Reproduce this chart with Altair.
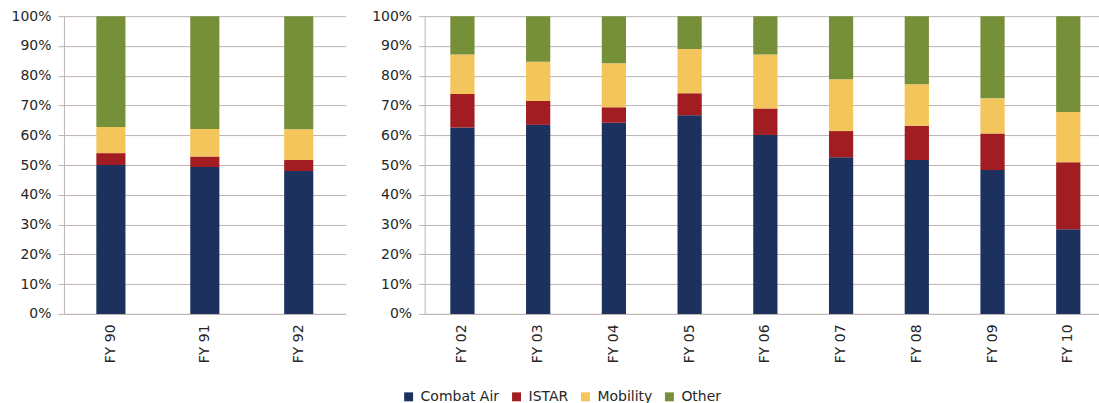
import altair as alt
import pandas as pd

# Fiscal years shown in each panel
years_early = ["FY 90", "FY 91", "FY 92"]
years_late = ["FY 02", "FY 03", "FY 04", "FY 05", "FY 06", "FY 07", "FY 08", "FY 09", "FY 10"]

# Share of the total (%) by mission area, early 1990s
combat_early = [50.0, 49.3, 48.0]
istar_early = [4.0, 3.6, 3.7]
mobility_early = [8.8, 9.2, 10.3]
other_early = [37.2, 37.9, 38.0]

# Share of the total (%) by mission area, 2002-2010
combat_late = [62.6, 63.5, 64.2, 66.7, 60.1, 52.6, 51.7, 48.3, 28.4]
istar_late = [11.3, 8.0, 5.2, 7.4, 8.9, 8.8, 11.5, 12.3, 22.5]
mobility_late = [13.2, 13.2, 14.8, 14.9, 18.1, 17.4, 13.9, 11.8, 16.9]
other_late = [12.9, 15.3, 15.8, 11.0, 12.9, 21.2, 22.9, 27.6, 32.2]

categories = ["Combat Air", "ISTAR", "Mobility", "Other"]
colors = ["#1c315e", "#a11d21", "#f4c55b", "#76903a"]

FONT = "DejaVu Sans"
GRID = "#bfb2b2"
TEXT = "#262626"


def to_frame(years, series):
    rows = []
    for k, (name, vals) in enumerate(zip(categories, series)):
        for y, v in zip(years, vals):
            rows.append({"year": y, "category": name, "share": v, "idx": k})
    return pd.DataFrame(rows)


df_early = to_frame(years_early, [combat_early, istar_early, mobility_early, other_early])
df_late = to_frame(years_late, [combat_late, istar_late, mobility_late, other_late])

color = alt.Color(
    "category:N",
    scale=alt.Scale(domain=categories, range=colors),
    legend=alt.Legend(
        title=None,
        orient="none",
        direction="horizontal",
        legendX=338,
        legendY=374,
        symbolType="square",
        symbolSize=80,
        symbolStrokeWidth=0,
        labelFont=FONT,
        labelFontSize=14,
        labelColor=TEXT,
        columnPadding=10,
        labelOffset=5,
    ),
)

y_enc = alt.Y(
    "share:Q",
    stack="normalize",
    scale=alt.Scale(domain=[0, 1]),
    axis=alt.Axis(
        title=None,
        format=".0%",
        values=[i / 10 for i in range(11)],
        tickSize=6,
        labelPadding=7,
    ),
)


def panel(df, years, width, scale):
    return (
        alt.Chart(df)
        .mark_bar()
        .encode(
            x=alt.X(
                "year:N",
                sort=years,
                scale=scale,
                axis=alt.Axis(title=None, labelAngle=270, ticks=False, labelPadding=10),
            ),
            y=y_enc,
            color=color,
            order=alt.Order("idx:Q", sort="ascending"),
        )
        .properties(width=width, height=298)
    )


left = panel(df_early, years_early, 282, alt.Scale(paddingInner=0.69, paddingOuter=0.345))
right = panel(df_late, years_late, 675, alt.Scale(paddingInner=0.68, paddingOuter=0.2926, align=0.58))

chart = (
    alt.hconcat(left, right, spacing=79, bounds="flush")
    .properties(
        padding={"left": 10, "top": 9, "right": 0, "bottom": 5},
        background="white",
    )
    .configure_view(stroke=None)
    .configure_axis(
        labelFont=FONT,
        labelFontSize=14,
        labelColor=TEXT,
        gridColor=GRID,
        gridWidth=1,
        domainColor=GRID,
        tickColor=GRID,
    )
)

chart.save("out.html", embed_options={"renderer": "svg", "actions": False})
